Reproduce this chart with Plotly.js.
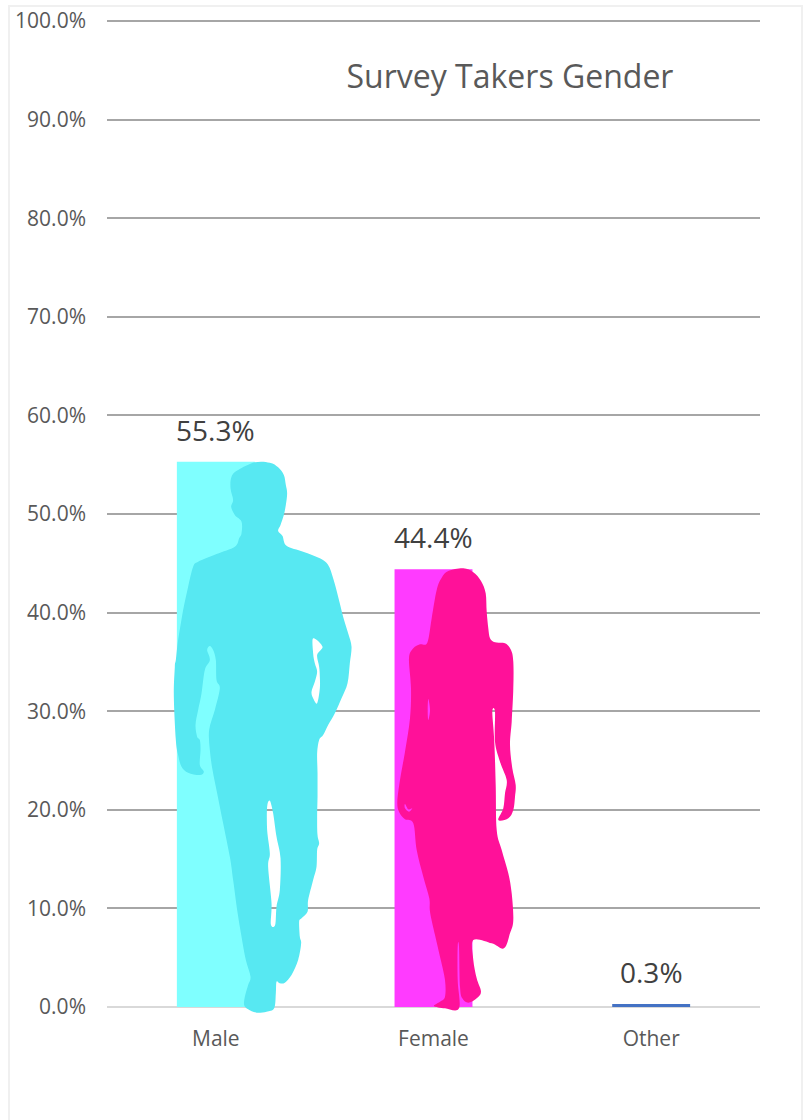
<!DOCTYPE html>
<html>
<head>
<meta charset="utf-8">
<script src="https://cdn.plot.ly/plotly-3.0.1.min.js"></script>
<style>html,body{margin:0;padding:0;background:#fff}#chart{width:804px;height:1120px}</style>
</head>
<body>
<div id="chart"></div>
<script>
const categories = ['Male', 'Female', 'Other'];
const shares = [0.553, 0.444, 0.003];
const barColors = ['#7FFFFF', '#FF3BFF', '#4472C4'];
const yTicks = [0, 0.1, 0.2, 0.3, 0.4, 0.5, 0.6, 0.7, 0.8, 0.9, 1];

// Silhouette outlines, traced on a 3x grid and offset from the figure's own frame
const manOutline = [
  [285,37],[330,38],[355,52],[372,75],[378,105],[382,130],[378,165],[372,195],[362,225],[355,243],[368,258],[380,287],
  [430,305],[480,325],[505,345],[520,385],[535,440],[550,500],[565,550],[575,590],[570,640],[563,700],[545,745],[525,790],
  [505,825],[490,855],[478,870],[472,910],[473,970],[473,1040],[472,1100],[473,1155],[478,1180],[472,1200],[470,1250],
  [460,1290],[445,1350],[443,1385],[425,1405],[418,1415],[420,1460],[424,1480],[415,1530],[395,1575],[375,1598],[360,1600],
  [350,1595],[348,1630],[343,1675],[320,1685],[290,1688],[265,1678],[253,1665],[255,1640],[265,1605],[272,1580],[258,1530],
  [245,1460],[232,1380],[220,1290],[210,1220],[190,1120],[172,1030],[158,960],[150,900],[148,840],[165,780],[180,715],
  [170,690],[168,630],[160,600],[150,588],[142,600],[150,630],[135,660],[125,730],[115,780],[107,825],[112,860],[120,870],
  [122,900],[120,945],[132,965],[120,975],[85,968],[65,950],[55,915],[48,870],[42,740],[45,650],[48,630],[55,570],[70,480],
  [85,410],[100,350],[115,335],[170,312],[225,290],[238,265],[245,250],[245,215],[225,195],[214,170],[220,150],[212,115],
  [215,80],[235,60]
];
const manPocket = [
  [460,565],[488,590],[472,615],[478,650],[480,680],[480,715],[472,760],[460,745],[455,725],[465,695],[472,665],[465,640],[460,610]
];
const manLegGap = [
  [330,1052],[340,1090],[350,1160],[362,1225],[360,1320],[350,1370],[346,1425],[333,1423],[335,1360],[325,1250],[330,1210],[322,1140],[322,1070]
];
const womanOutline = [
  [235,40],[265,52],[288,78],[302,115],[305,170],[310,220],[315,250],[330,262],[360,265],[378,285],[385,320],[385,400],
  [380,500],[375,570],[382,640],[392,690],[390,725],[385,765],[370,790],[340,795],[355,760],[360,715],[365,675],
  [345,620],[330,560],[330,470],[322,470],[328,560],[332,690],[335,825],[350,885],[370,955],[380,1015],[385,1095],
  [375,1135],[357,1180],[320,1165],[265,1155],[265,1215],[275,1270],[288,1310],[275,1330],[250,1343],[232,1330],[225,1295],
  [222,1175],[218,1175],[218,1275],[222,1360],[180,1360],[147,1353],[165,1340],[180,1325],[180,1275],[165,1205],[150,1140],
  [135,1070],[133,1030],[115,965],[95,885],[85,805],[60,793],[42,770],[37,740],[45,675],[60,590],[75,490],[78,400],[72,310],
  [85,280],[105,268],[127,263],[140,190],[155,105],[170,68],[190,48]
];
const womanArmGap = [[130,432],[135,465],[130,495],[128,465]];
const womanHandGap = [[60,747],[70,763],[82,760],[72,770],[60,760]];

// Closed Catmull-Rom loop through the traced points, in pixels from the anchor
function loopPath(points, left, top, centre) {
  const pts = points.map(([a, b]) => [left + a / 3 - centre, 1007 - (top + b / 3)]);
  const n = pts.length;
  let d = 'M' + pts[0][0].toFixed(1) + ',' + pts[0][1].toFixed(1);
  for (let i = 0; i < n; i++) {
    const p0 = pts[(i - 1 + n) % n], p1 = pts[i], p2 = pts[(i + 1) % n], p3 = pts[(i + 2) % n];
    const c1 = [p1[0] + (p2[0] - p0[0]) / 6, p1[1] + (p2[1] - p0[1]) / 6];
    const c2 = [p2[0] - (p3[0] - p1[0]) / 6, p2[1] - (p3[1] - p1[1]) / 6];
    d += 'C' + [c1, c2, p2].map(p => p[0].toFixed(1) + ',' + p[1].toFixed(1)).join(' ');
  }
  return d + 'Z';
}
// Paper references keep the feet visible where they step below the zero line
function figure(index, colour, left, top, centre, loops) {
  return {
    type: 'path', layer: 'above', xref: 'paper', yref: 'paper',
    xsizemode: 'pixel', ysizemode: 'pixel', xanchor: (index + 0.5) / categories.length, yanchor: 0,
    path: loops.map(l => loopPath(l, left, top, centre)).join(''),
    fillcolor: colour, fillrule: 'evenodd', line: {width: 0}
  };
}

const labels = categories.map((c, i) => ({
  x: c, y: shares[i], xref: 'x', yref: 'y', yshift: 32, showarrow: false,
  text: (shares[i] * 100).toFixed(1) + '%',
  font: {family: 'Open Sans', size: 28, color: '#404040'}
}));

const layout = {
  width: 804, height: 1120,
  margin: {l: 107, r: 44, t: 19, b: 113, pad: 0},
  paper_bgcolor: '#fff', plot_bgcolor: '#fff',
  showlegend: false,
  title: {
    text: 'Survey Takers Gender', x: 510 / 804, xref: 'container', xanchor: 'center',
    y: 1 - 77 / 1120, yref: 'container', yanchor: 'middle',
    font: {family: 'Open Sans', size: 32, color: '#595959'}
  },
  bargap: 0.642,
  xaxis: {
    type: 'category', categoryorder: 'array', categoryarray: categories,
    showgrid: false, ticks: '', ticklabelstandoff: 17,
    showline: false, zeroline: false,
    tickfont: {family: 'Open Sans', size: 21, color: '#595959'}
  },
  yaxis: {
    range: [0, 1.002], tickmode: 'array', tickvals: yTicks, tickformat: '.1%',
    showgrid: true, gridcolor: '#A6A6A6', gridwidth: 2,
    zeroline: true, zerolinecolor: '#D9D9D9', zerolinewidth: 2,
    ticks: '', ticklabelstandoff: 20,
    tickfont: {family: 'Open Sans', size: 21, color: '#595959'}
  },
  annotations: labels,
  shapes: [
    figure(0, '#57E8F2', 160, 450, 216, [manOutline, manPocket, manLegGap]),
    figure(1, '#FF1199', 385, 555, 433.5, [womanOutline, womanArmGap, womanHandGap]),
    {type: 'rect', xref: 'paper', yref: 'paper', layer: 'below',
     x0: -98 / 653, x1: 695 / 653, y0: -1.2, y1: 1 + 13 / 988,
     line: {color: '#F0F0F0', width: 2}, fillcolor: 'rgba(0,0,0,0)'}
  ]
};

Plotly.newPlot('chart', [{
  type: 'bar', x: categories, y: shares,
  marker: {color: barColors, line: {width: 0}},
  hoverinfo: 'x+y', cliponaxis: false
}], layout, {displayModeBar: false, staticPlot: true});
</script>
</body>
</html>
